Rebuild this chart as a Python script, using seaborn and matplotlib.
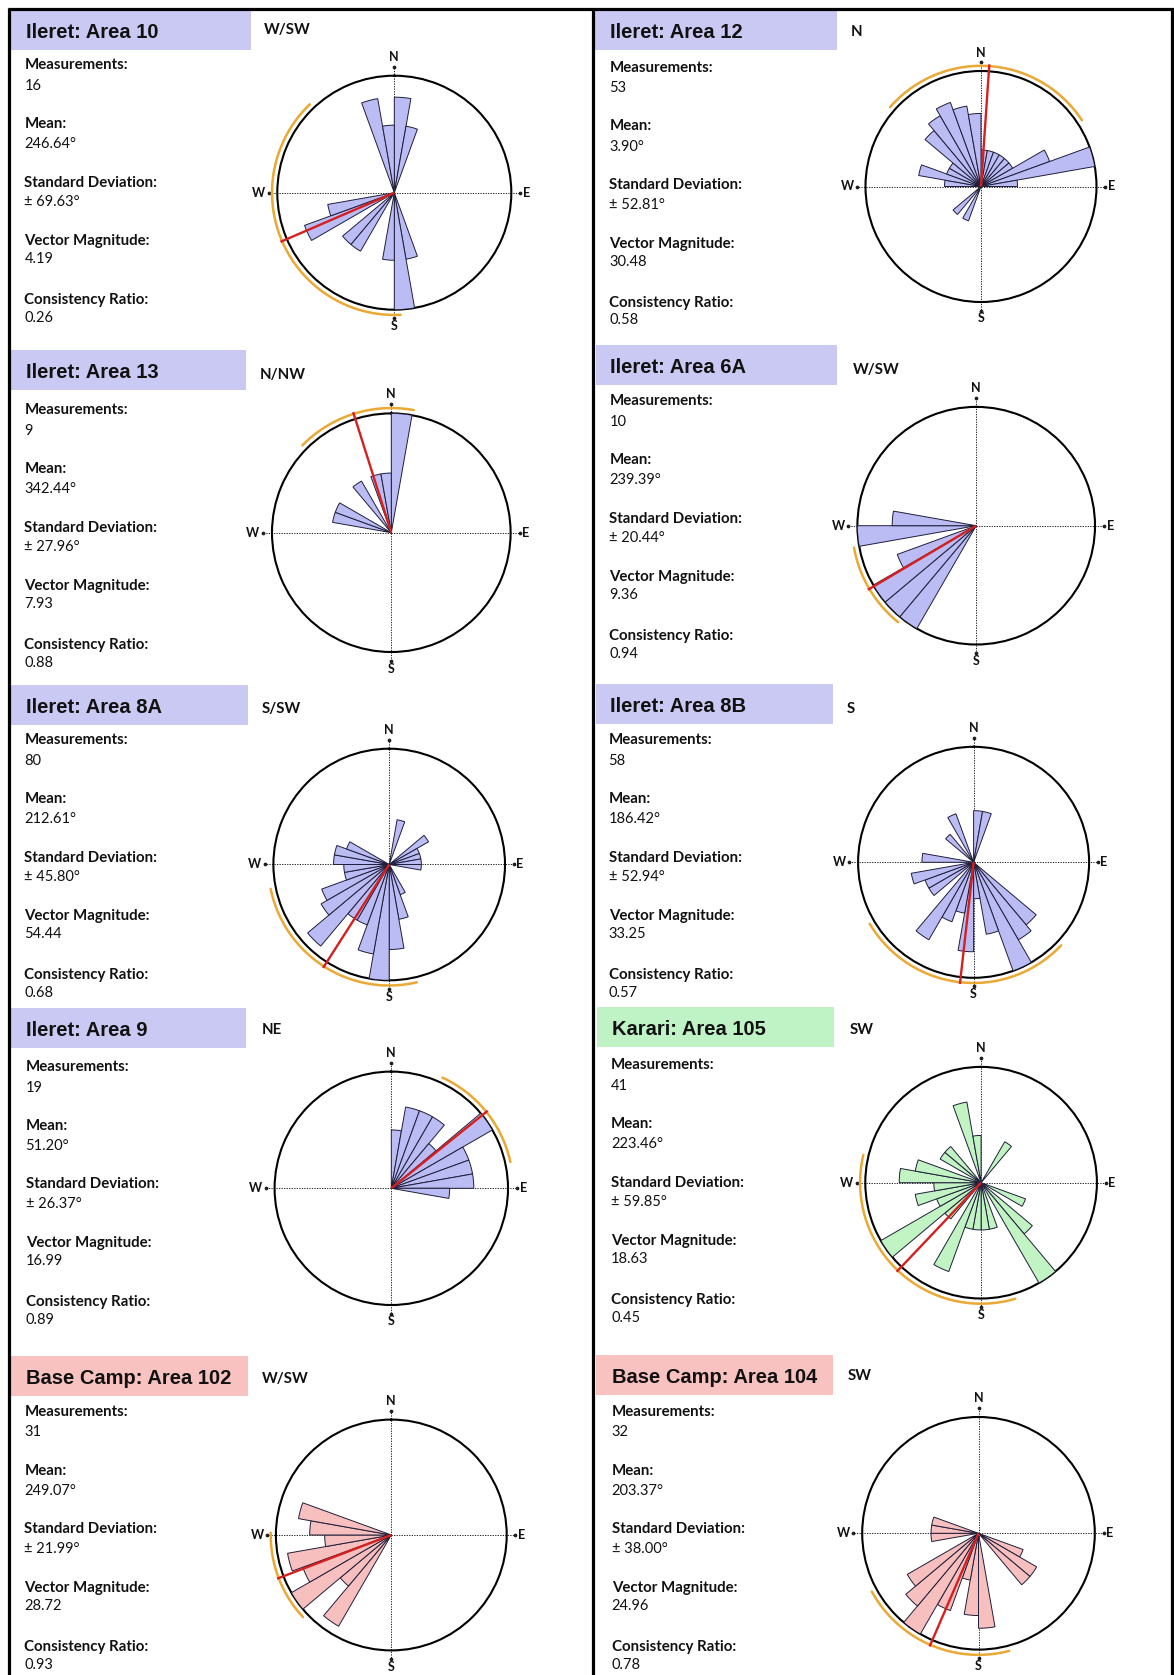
import numpy as np
import matplotlib
matplotlib.use("Agg")
import matplotlib.pyplot as plt
import seaborn as sns
from matplotlib.patches import Rectangle
from matplotlib.lines import Line2D

# ---------------------------------------------------------------- data
sites = ["Ileret: Area 10", "Ileret: Area 12", "Ileret: Area 13", "Ileret: Area 6A",
         "Ileret: Area 8A", "Ileret: Area 8B", "Ileret: Area 9", "Karari: Area 105",
         "Base Camp: Area 102", "Base Camp: Area 104"]
regions = ["Ileret", "Ileret", "Ileret", "Ileret", "Ileret", "Ileret", "Ileret",
           "Karari", "Base Camp", "Base Camp"]
trend = ["W/SW", "N", "N/NW", "W/SW", "S/SW", "S", "NE", "SW", "W/SW", "SW"]
measurements = [16, 53, 9, 10, 80, 58, 19, 41, 31, 32]
mean_dir = [246.64, 3.90, 342.44, 239.39, 212.61, 186.42, 51.20, 223.46, 249.07, 203.37]
std_dev = [69.63, 52.81, 27.96, 20.44, 45.80, 52.94, 26.37, 59.85, 21.99, 38.00]
vector_mag = [4.19, 30.48, 7.93, 9.36, 54.44, 33.25, 16.99, 18.63, 28.72, 24.96]
consistency = [0.26, 0.58, 0.88, 0.94, 0.68, 0.57, 0.89, 0.45, 0.93, 0.78]

# readings per 10-degree azimuth class (class start in degrees -> count)
petals_area10 = {0: 2, 10: 1, 160: 1, 170: 3, 180: 1, 210: 1, 220: 1, 240: 2, 250: 1,
                 340: 2, 350: 1}
petals_area12 = {0: 1, 10: 1, 20: 1, 30: 1, 40: 1, 50: 1, 60: 4, 70: 10, 80: 1,
                 200: 1, 220: 1, 270: 1, 280: 3, 290: 1, 300: 1, 310: 4, 320: 5,
                 330: 6, 340: 5, 350: 4}
petals_area13 = {0: 4, 280: 1, 290: 1, 320: 1, 340: 1, 350: 1}
petals_area6a = {210: 2, 220: 2, 230: 2, 240: 1, 260: 2, 270: 1}
petals_area8a = {10: 2, 50: 2, 60: 1, 70: 1, 80: 1, 90: 1, 150: 1, 160: 3, 170: 7,
                 180: 13, 190: 8, 200: 4, 210: 4, 220: 11, 230: 6, 240: 5, 250: 2,
                 260: 2, 270: 3, 280: 3, 290: 2}
petals_area8b = {0: 2, 10: 2, 130: 5, 140: 6, 150: 10, 160: 4, 170: 1, 180: 6, 190: 2,
                 200: 3, 210: 6, 230: 2, 240: 2, 250: 3, 270: 2, 310: 1, 330: 2}
petals_area9 = {0: 1, 10: 2, 20: 2, 30: 2, 40: 1, 50: 4, 60: 2, 70: 2, 80: 2, 90: 1}
petals_area105 = {30: 1, 110: 1, 130: 2, 140: 6, 160: 1, 170: 1, 180: 1, 190: 1,
                  200: 4, 220: 1, 230: 6, 240: 1, 250: 2, 260: 1, 270: 3, 280: 2,
                  300: 1, 310: 1, 340: 3, 350: 1}
petals_area102 = {210: 5, 220: 2, 230: 6, 240: 4, 250: 5, 260: 2, 270: 3, 280: 4}
petals_area104 = {110: 1, 120: 2, 130: 2, 170: 4, 180: 3, 190: 1, 200: 3, 210: 6,
                  220: 4, 230: 3, 260: 1, 270: 1, 280: 1}
petal_counts = [petals_area10, petals_area12, petals_area13, petals_area6a, petals_area8a,
                petals_area8b, petals_area9, petals_area105, petals_area102, petals_area104]

stat_labels = ["Measurements:", "Mean:", "Standard Deviation:", "Vector Magnitude:",
               "Consistency Ratio:"]

# ---------------------------------------------------------------- layout (pixels)
W, H = 1174, 1675
# header box: x0, y0, x1, y1 ; header text x ; stats text x ; first stats line y
header_box = [(11, 10, 251, 50), (594, 10, 837, 50), (11, 350, 246, 390),
              (596, 345, 837, 385), (11, 685, 248, 725), (596, 684, 833, 724),
              (11, 1008, 246, 1048), (597, 1007, 834, 1047), (11, 1356, 248, 1396),
              (596, 1355, 833, 1395)]
header_text_x = [25.6, 610.5, 25.6, 610.5, 26.3, 610.5, 25.6, 611.6, 26.3, 611.6]
stats_x = [24.5, 609.4, 24.5, 609.4, 24.5, 608.6, 25.6, 611.2, 24.5, 611.6]
stats_y0 = [65.3, 67.7, 410.3, 401.3, 740.3, 740.3, 1067, 1065.3, 1412, 1412]
trend_xy = [(263.4, 30.3), (850.7, 32), (259.6, 375.3), (852.6, 370.3), (261.5, 708.7),
            (847, 708.7), (261.5, 1030.3), (849.6, 1030.3), (261.5, 1378.7),
            (847.7, 1376.3)]
rose_geom = [(394.3, 192.7, 117.0), (981.0, 186.5, 115.5), (391.3, 532.7, 119.3),
             (976.2, 525.7, 118.8), (389.2, 864.5, 115.8), (973.6, 862.3, 115.5),
             (391.3, 1188.3, 116.7), (981.1, 1182.7, 115.8), (391.3, 1535.0, 115.4),
             (978.5, 1533.3, 116.3)]
line_step = 58.7
value_gap = [20.5, 20.3, 19.5, 18.0, 18.0]

header_color = {"Ileret": "#c9c9f3", "Karari": "#bff3c6", "Base Camp": "#f8c2c0"}
petal_color = {"Ileret": "#bcbcf5", "Karari": "#c2f3c2", "Base Camp": "#f8bfbf"}
edge_color = "#1e1e3a"
mean_color = "#d61f1f"
spread_color = "#eaa834"

# ---------------------------------------------------------------- figure
sns.set_theme(style="white")
plt.rcParams["font.family"] = ["Lato", "DejaVu Sans"]

fig = plt.figure(figsize=(W / 100, H / 100), dpi=100)
fig.patch.set_facecolor("white")
renderer = fig.canvas.get_renderer()


def fx(x):
    return x / W


def fy(y):
    return 1 - y / H


def fit_size(text, target_px, **kw):
    t = fig.text(0, 0, text, fontsize=10, **kw)
    w = t.get_window_extent(renderer=renderer).width
    t.remove()
    return 10 * target_px / w


head_font = dict(family=["Liberation Sans", "DejaVu Sans"], fontweight="bold")
body_bold = dict(family=["Lato", "DejaVu Sans"], fontweight="bold")
body_reg = dict(family=["Lato", "DejaVu Sans"], fontweight="normal")

head_size = fit_size("Base Camp: Area 102", 205, **head_font)
label_size = fit_size("Standard Deviation:", 133, **body_bold)
value_size = label_size * 0.98

# frame lines
frame_kw = dict(color="black", lw=2.3, transform=fig.transFigure, solid_capstyle="butt")
fig.add_artist(Line2D([fx(8), fx(W)], [fy(8.7), fy(8.7)], **frame_kw))
fig.add_artist(Line2D([fx(9.4), fx(9.4)], [fy(7.5), fy(H)], **frame_kw))
fig.add_artist(Line2D([fx(592.5), fx(592.5)], [fy(7.5), fy(H)], **frame_kw))
fig.add_artist(Line2D([fx(1172.3), fx(1172.3)], [fy(7.5), fy(H)], **frame_kw))


def draw_rose(cx, cy, R, counts, mean, sd, face):
    ax = fig.add_axes([fx(cx - R), fy(cy + R), 2 * R / W, 2 * R / H], projection="polar")
    ax.set_theta_zero_location("N")
    ax.set_theta_direction(-1)
    ax.set_facecolor("white")

    starts = np.array(sorted(counts))
    vals = np.array([counts[k] for k in starts], dtype=float)
    radius = np.sqrt(vals / vals.max())  # equal-area rose
    ax.bar(np.deg2rad(starts), radius, width=np.deg2rad(10), align="edge",
           color=face, edgecolor=edge_color, linewidth=0.7, zorder=3)

    # compass cross
    for th in (0, 90, 180, 270):
        t = np.deg2rad(th)
        ax.plot([t, t], [0, 1.075], color="#202020", lw=0.7, ls=(0, (1.3, 1.3)),
                clip_on=False, zorder=2)
        ax.plot([t], [1.075], marker="o", ms=1.7, color="#202020", clip_on=False,
                zorder=2)
    for th, lab, rr in ((0, "N", 1.16), (90, "E", 1.13), (180, "S", 1.14), (270, "W", 1.16)):
        ax.text(np.deg2rad(th), rr, lab, ha="center", va="center", fontsize=9,
                **body_bold, color="#111111")

    # mean direction and one-sigma spread
    m = np.deg2rad(mean)
    ax.plot([m, m], [0, 1.06], color=mean_color, lw=1.7, clip_on=False, zorder=5,
            solid_capstyle="butt")
    arc = np.deg2rad(np.linspace(mean - sd, mean + sd, 200))
    ax.plot(arc, np.full_like(arc, 1.045), color=spread_color, lw=1.8, clip_on=False,
            zorder=4)

    ax.set_ylim(0, 1)
    ax.set_xticks([])
    ax.set_yticks([])
    ax.grid(False)
    ax.spines["polar"].set_color("black")
    ax.spines["polar"].set_linewidth(1.5)
    return ax


for i, site in enumerate(sites):
    x0, y0, x1, y1 = header_box[i]
    fig.add_artist(Rectangle((fx(x0), fy(y1)), (x1 - x0) / W, (y1 - y0) / H,
                             transform=fig.transFigure,
                             facecolor=header_color[regions[i]], edgecolor="none"))
    fig.text(fx(header_text_x[i]), fy((y0 + y1) / 2 + 2.5), site, ha="left", va="center",
             fontsize=head_size, color="#111111", **head_font)
    tx, ty = trend_xy[i]
    fig.text(fx(tx), fy(ty), trend[i], ha="left", va="center", fontsize=label_size,
             color="#111111", **body_bold)

    values = [f"{measurements[i]}", f"{mean_dir[i]:.2f}°", f"± {std_dev[i]:.2f}°",
              f"{vector_mag[i]:.2f}", f"{consistency[i]:.2f}"]
    for k, (lab, val) in enumerate(zip(stat_labels, values)):
        ly = stats_y0[i] + k * line_step
        fig.text(fx(stats_x[i]), fy(ly), lab, ha="left", va="center",
                 fontsize=label_size, color="#111111", **body_bold)
        fig.text(fx(stats_x[i]), fy(ly + value_gap[k]), val, ha="left", va="center",
                 fontsize=value_size, color="#111111", **body_reg)

    cx, cy, R = rose_geom[i]
    draw_rose(cx, cy, R, petal_counts[i], mean_dir[i], std_dev[i], petal_color[regions[i]])

fig.savefig("out.png", dpi=100, facecolor="white")
